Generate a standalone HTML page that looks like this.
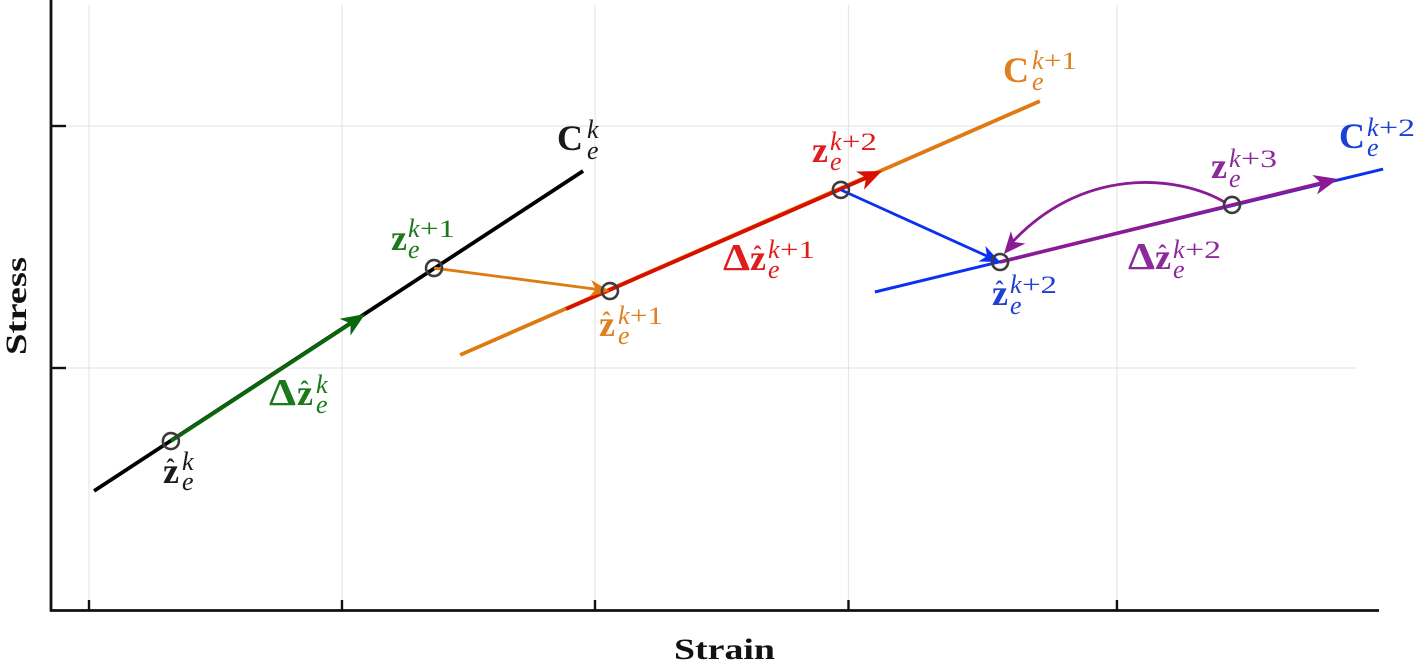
<!DOCTYPE html>
<html lang="en">
<head>
<meta charset="utf-8">
<title>Stress-strain return mapping chart</title>
<style>
html,body{margin:0;padding:0;background:#fff;width:1419px;height:662px;overflow:hidden}
svg{display:block}
text{font-family:"Liberation Serif",serif}
.b{font-weight:700;font-size:36px}
.d{font-weight:700;font-size:38px}
.s{font-style:italic;font-size:26px}
.r{font-size:25px}
.h{font-weight:700;font-size:24px;text-anchor:middle}
.t{font-weight:700;font-size:30px;fill:#111}
.black{fill:#1a1a1a}.green{fill:#1a7a1a}.orange{fill:#e08020}.red{fill:#e01c1c}.blue{fill:#1c3fd4}.purple{fill:#8c2a9c}
</style>
</head>
<body>
<svg id="chart" width="1419" height="662" viewBox="0 0 1419 662" xmlns="http://www.w3.org/2000/svg">
<rect width="1419" height="662" fill="#fff"/>
<g id="grid"></g>
<g id="axes"></g>
<g id="marks"></g>

<text class="t" x="674" y="659" textLength="101" lengthAdjust="spacingAndGlyphs">Strain</text>
<text class="t" transform="translate(26,355) rotate(-90)" textLength="98" lengthAdjust="spacingAndGlyphs">Stress</text>

<g class="black">
<text class="h" x="170.5" y="476">ˆ</text><text class="b" x="163" y="483">z</text><text class="s" x="182" y="470">k</text><text class="s" x="182" y="490">e</text>
</g>
<g class="green">
<text class="d" x="269" y="405" textLength="27" lengthAdjust="spacingAndGlyphs">Δ</text><text class="h" x="304.5" y="398">ˆ</text><text class="b" x="297" y="405">z</text><text class="s" x="316" y="393">k</text><text class="s" x="316" y="413">e</text>
</g>
<g class="black">
<text class="b" x="557" y="150">C</text><text class="s" x="587" y="138">k</text><text class="s" x="587" y="159">e</text>
</g>
<g class="green">
<text class="b" x="391" y="250">z</text><text class="s" x="408" y="237">k</text><text class="r" x="420" y="237" textLength="35" lengthAdjust="spacingAndGlyphs">+1</text><text class="s" x="408" y="258">e</text>
</g>
<g class="orange">
<text class="h" x="606.5" y="329">ˆ</text><text class="b" x="599" y="336">z</text><text class="s" x="618" y="324">k</text><text class="r" x="630" y="324" textLength="33" lengthAdjust="spacingAndGlyphs">+1</text><text class="s" x="618" y="344">e</text>
</g>
<g class="orange">
<text class="b" x="1003" y="82">C</text><text class="s" x="1032" y="69">k</text><text class="r" x="1044" y="69" textLength="33" lengthAdjust="spacingAndGlyphs">+1</text><text class="s" x="1032" y="90">e</text>
</g>
<g class="red">
<text class="b" x="812" y="162">z</text><text class="s" x="830" y="150">k</text><text class="r" x="842" y="150" textLength="35" lengthAdjust="spacingAndGlyphs">+2</text><text class="s" x="830" y="170">e</text>
</g>
<g class="red">
<text class="d" x="723" y="270" textLength="27" lengthAdjust="spacingAndGlyphs">Δ</text><text class="h" x="757.5" y="263">ˆ</text><text class="b" x="750" y="270">z</text><text class="s" x="768" y="258">k</text><text class="r" x="780" y="258" textLength="35" lengthAdjust="spacingAndGlyphs">+1</text><text class="s" x="768" y="278">e</text>
</g>
<g class="blue">
<text class="h" x="999.5" y="298">ˆ</text><text class="b" x="992" y="305">z</text><text class="s" x="1010" y="293">k</text><text class="r" x="1022" y="293" textLength="35" lengthAdjust="spacingAndGlyphs">+2</text><text class="s" x="1010" y="314">e</text>
</g>
<g class="purple">
<text class="b" x="1211" y="178">z</text><text class="s" x="1229" y="167">k</text><text class="r" x="1241" y="167" textLength="36" lengthAdjust="spacingAndGlyphs">+3</text><text class="s" x="1229" y="187">e</text>
</g>
<g class="purple">
<text class="d" x="1128" y="269" textLength="27" lengthAdjust="spacingAndGlyphs">Δ</text><text class="h" x="1162.5" y="262">ˆ</text><text class="b" x="1155" y="269">z</text><text class="s" x="1173" y="258">k</text><text class="r" x="1185" y="258" textLength="36" lengthAdjust="spacingAndGlyphs">+2</text><text class="s" x="1173" y="278">e</text>
</g>
<g class="blue">
<text class="b" x="1339" y="148">C</text><text class="s" x="1367" y="136">k</text><text class="r" x="1379" y="136" textLength="36" lengthAdjust="spacingAndGlyphs">+2</text><text class="s" x="1367" y="156">e</text>
</g>
</svg>
<script>
const xTickValues = [0, 0.998, 1.996, 2.996, 4.055];
const yTickValues = [1, 2];

const lineNames = ['line-c-k', 'line-c-k-plus-1', 'line-c-k-plus-2'];
const lineStrain = [[0.02, 1.949], [1.464, 3.751], [3.10, 5.105]];
const lineStress = [[0.492, 1.814], [1.054, 2.103], [1.314, 1.822]];
const lineColors = ['#000000', '#df7a12', '#0a30f0'];
const lineWidths = [3.8, 3.8, 3];

const arrowNames = ['increment-arrow-k', 'increment-arrow-k-plus-1', 'increment-arrow-k-plus-2', 'correction-arrow-orange', 'correction-arrow-blue'];
const arrowStrain = [[0.323, 1.089], [1.882, 3.128], [3.594, 4.927], [1.361, 2.055], [2.966, 3.594]];
const arrowStress = [[0.698, 1.223], [1.244, 1.814], [1.438, 1.781], [1.413, 1.318], [1.736, 1.438]];
const arrowColors = ['#0a660a', '#d90f00', '#8a1a96', '#df7a12', '#0a30f0'];
const arrowWidths = [3.8, 3.8, 3.6, 2.8, 2.8];

const curveStrain = [4.485, 4.30, 3.909, 3.609];
const curveStress = [1.682, 1.800, 1.839, 1.471];

const pointNames = ['point-z-hat-k', 'point-z-k-plus-1', 'point-z-hat-k-plus-1', 'point-z-k-plus-2', 'point-z-hat-k-plus-2', 'point-z-k-plus-3'];
const pointStrain = [0.323, 1.361, 2.055, 2.966, 3.594, 4.509];
const pointStress = [0.698, 1.413, 1.318, 1.736, 1.438, 1.674];

const SVGNS = 'http://www.w3.org/2000/svg';
const xAxis = v => 89 + 253.5 * v;
const yAxis = v => 610 - 242 * v;
const gridG = document.getElementById('grid');
const axesG = document.getElementById('axes');
const marksG = document.getElementById('marks');

function make(tag, parent, attrs) {
  const el = document.createElementNS(SVGNS, tag);
  for (const k in attrs) el.setAttribute(k, attrs[k]);
  parent.appendChild(el);
  return el;
}

function drawArrowHead(parent, name, x1, y1, x2, y2, color, len, half) {
  const a = Math.atan2(y2 - y1, x2 - x1);
  const c = Math.cos(a), s = Math.sin(a);
  const pt = (f, n) => (x2 + f * c - n * s).toFixed(1) + ',' + (y2 + f * s + n * c).toFixed(1);
  const el = make('polygon', parent, {points: [pt(0, 0), pt(-len, half), pt(-len * 0.72, 0), pt(-len, -half)].join(' '), fill: color});
  
  
}

xTickValues.forEach(v => {
  const g = make('line', gridG, {x1: xAxis(v), x2: xAxis(v), y1: 5, y2: 610, stroke: '#e6e6e6', 'stroke-width': 1.2});
  
  
  const t = make('line', axesG, {x1: xAxis(v), x2: xAxis(v), y1: 600, y2: 611, stroke: '#111', 'stroke-width': 2.4});
  
  
});
yTickValues.forEach(v => {
  const g = make('line', gridG, {x1: 51, x2: 1356, y1: yAxis(v), y2: yAxis(v), stroke: '#e6e6e6', 'stroke-width': 1.2});
  
  
  const t = make('line', axesG, {x1: 51, x2: 66, y1: yAxis(v), y2: yAxis(v), stroke: '#111', 'stroke-width': 2.4});
  
  
});
const yLine = make('line', axesG, {x1: 51, x2: 51, y1: 0, y2: 611.5, stroke: '#111', 'stroke-width': 2.8});


const xLine = make('line', axesG, {x1: 50, x2: 1379, y1: 610.5, y2: 610.5, stroke: '#111', 'stroke-width': 2.8});



lineNames.forEach((name, i) => {
  const el = make('line', marksG, {
    x1: xAxis(lineStrain[i][0]), y1: yAxis(lineStress[i][0]),
    x2: xAxis(lineStrain[i][1]), y2: yAxis(lineStress[i][1]),
    stroke: lineColors[i], 'stroke-width': lineWidths[i]
  });
  
  
});

arrowNames.forEach((name, i) => {
  const x1 = xAxis(arrowStrain[i][0]), y1 = yAxis(arrowStress[i][0]);
  const x2 = xAxis(arrowStrain[i][1]), y2 = yAxis(arrowStress[i][1]);
  const a = Math.atan2(y2 - y1, x2 - x1);
  const el = make('line', marksG, {x1: x1, y1: y1, x2: x2 - 10 * Math.cos(a), y2: y2 - 10 * Math.sin(a), stroke: arrowColors[i], 'stroke-width': arrowWidths[i]});
  
  
  const thick = arrowWidths[i] > 3;
  drawArrowHead(marksG, name + '-head', x1, y1, x2, y2, arrowColors[i], thick ? 24 : 20, thick ? 10 : 8.5);
});

const cx = curveStrain.map(xAxis);
const cy = curveStress.map(yAxis);
const curve = make('path', marksG, {
  d: 'M' + cx[0] + ' ' + cy[0] + ' C' + cx[1] + ' ' + cy[1] + ' ' + cx[2] + ' ' + cy[2] + ' ' + (cx[3] + 4) + ' ' + (cy[3] - 7),
  fill: 'none', stroke: '#8a1a96', 'stroke-width': 2.8
});


drawArrowHead(marksG, 'return-curve-arrow-head', cx[2], cy[2], cx[3], cy[3], '#8a1a96', 22, 9.5);

pointNames.forEach((name, i) => {
  const el = make('circle', marksG, {cx: xAxis(pointStrain[i]), cy: yAxis(pointStress[i]), r: 8, fill: 'none', stroke: '#3c3c3c', 'stroke-width': 2.6});
  
  
});
</script>
</body>
</html>
